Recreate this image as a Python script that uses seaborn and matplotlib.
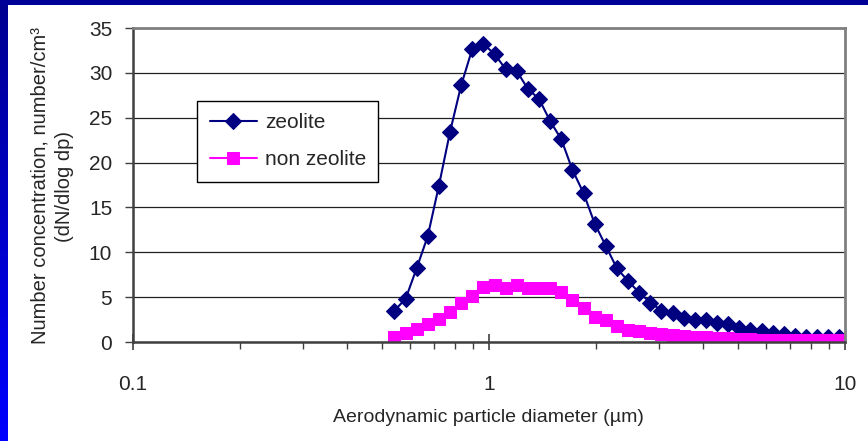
import numpy as np
import pandas as pd
import seaborn as sns
import matplotlib.pyplot as plt
from matplotlib.ticker import FixedLocator, FixedFormatter, LogLocator, NullFormatter
from matplotlib.patches import Rectangle

# APS channel midpoints (um)
diam = [0.542, 0.583, 0.626, 0.673, 0.723, 0.777, 0.835, 0.898, 0.965, 1.037,
        1.114, 1.197, 1.286, 1.382, 1.486, 1.596, 1.715, 1.843, 1.981, 2.129,
        2.288, 2.458, 2.642, 2.839, 3.051, 3.278, 3.523, 3.786, 4.068, 4.371,
        4.698, 5.048, 5.425, 5.829, 6.264, 6.732, 7.234, 7.774, 8.354, 8.977, 9.647]

zeolite = [3.5, 4.8, 8.2, 11.8, 17.4, 23.4, 28.6, 32.7, 33.2, 32.1,
           30.4, 30.2, 28.2, 27.1, 24.6, 22.6, 19.2, 16.6, 13.2, 10.7,
           8.2, 6.8, 5.5, 4.4, 3.5, 3.2, 2.7, 2.4, 2.4, 2.1,
           2.0, 1.6, 1.3, 1.25, 0.95, 0.85, 0.7, 0.6, 0.6, 0.6, 0.6]

non_zeolite = [0.6, 0.95, 1.4, 2.0, 2.6, 3.3, 4.4, 5.1, 6.1, 6.3,
               6.0, 6.3, 6.0, 6.0, 6.0, 5.6, 4.7, 3.75, 2.8, 2.4,
               1.8, 1.35, 1.2, 0.95, 0.9, 0.78, 0.67, 0.6, 0.6, 0.5,
               0.45, 0.35, 0.3, 0.25, 0.25, 0.2, 0.2, 0.2, 0.2, 0.2, 0.2]

xticks = [0.1, 1, 10]
xticklabels = ["0.1", "1", "10"]
yticks = [0, 5, 10, 15, 20, 25, 30, 35]

sns.set_style("white")
plt.rcParams['font.family'] = ['Liberation Sans', 'DejaVu Sans']

W, H = 868, 441
fig = plt.figure(figsize=(W / 100, H / 100), dpi=100, facecolor="white")
ax = fig.add_axes([133 / W, 1 - 342 / H, (845 - 133) / W, (342 - 28) / H])

ax.yaxis.grid(True, color="#222222", lw=0.9)
ax.set_axisbelow(True)

sns.lineplot(x=diam, y=zeolite, ax=ax, color="#000080", lw=1.5, marker="D",
             markersize=8, markeredgecolor="#000080", label="zeolite")
sns.lineplot(x=diam, y=non_zeolite, ax=ax, color="#ff00ff", lw=1.5, marker="s",
             markersize=8.5, markeredgecolor="#ff00ff", label="non zeolite")

ax.set_xscale("log")
ax.set_xlim(0.1, 10)
ax.set_ylim(0, 35)
ax.xaxis.set_major_locator(FixedLocator(xticks))
ax.xaxis.set_major_formatter(FixedFormatter(xticklabels))
ax.xaxis.set_minor_locator(LogLocator(base=10, subs=np.arange(2, 10)))
ax.xaxis.set_minor_formatter(NullFormatter())
ax.set_yticks(yticks)

ax.tick_params(axis="x", which="major", direction="inout", length=11, width=1.2,
               color="#404040", labelsize=15, pad=18, bottom=True)
ax.tick_params(axis="x", which="minor", direction="out", length=5, width=1,
               color="#404040", bottom=True)
ax.tick_params(axis="y", which="major", direction="out", length=6, width=1,
               color="#404040", labelsize=15, pad=9, left=True)

for s in ["left", "bottom"]:
    ax.spines[s].set_color("#404040")
    ax.spines[s].set_linewidth(1.8)
for s in ["top", "right"]:
    ax.spines[s].set_color("#808080")
    ax.spines[s].set_linewidth(2)

ax.set_xlabel("")
ax.set_ylabel("")

leg = ax.legend(loc="upper left", bbox_to_anchor=((197 - 133) / 712, (342 - 101) / 314),
                borderaxespad=0, frameon=True, fancybox=False, framealpha=1,
                edgecolor="black", fontsize=15, handlelength=2.3, labelspacing=0.85,
                borderpad=0.6, handletextpad=0.35)
leg.get_frame().set_linewidth(1)

fig.text(488 / W, 1 - 418 / H, "Aerodynamic particle diameter (µm)",
         ha="center", va="center", fontsize=14)
fig.text(52 / W, 1 - 186 / H, "Number concentration, number/cm³\n(dN/dlog dp)",
         ha="center", va="center", rotation=90, fontsize=14.5, linespacing=1.35,
         multialignment="center")

# slide border
grad = np.linspace(0, 1, 256).reshape(-1, 1)
bax = fig.add_axes([0, 0, 8 / W, 1])
bax.imshow(grad, aspect="auto", cmap=plt.matplotlib.colors.LinearSegmentedColormap.from_list(
    "b", ["#0000ff", "#000090"]), origin="lower", extent=[0, 1, 0, 1])
bax.axis("off")
fig.add_artist(Rectangle((0, 1 - 5 / H), 1, 5 / H, transform=fig.transFigure,
                         color="#000099", lw=0))

fig.savefig("out.png", dpi=100)
